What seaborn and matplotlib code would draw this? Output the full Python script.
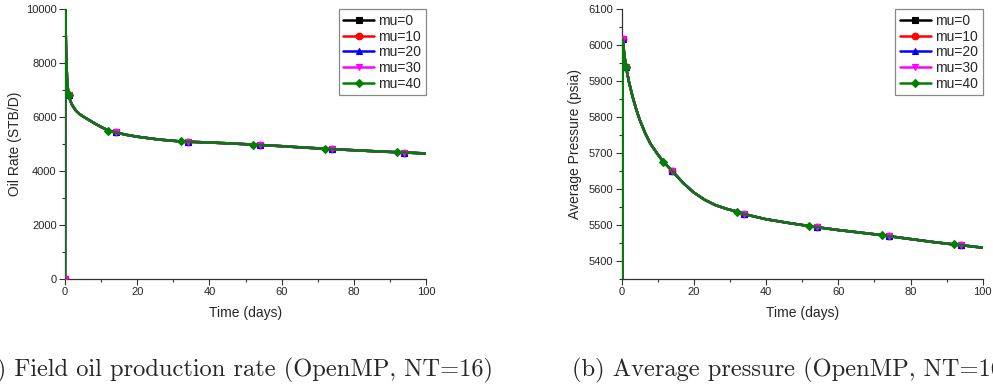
import numpy as np
import pandas as pd
import matplotlib
matplotlib.use("Agg")
import matplotlib.pyplot as plt
import seaborn as sns
from matplotlib.ticker import MultipleLocator

# ---------------- data ----------------
series_labels = ["mu=0", "mu=10", "mu=20", "mu=30", "mu=40"]
series_colors = ["#000000", "#ff0000", "#0000ff", "#ff00ff", "#008000"]
series_markers = ["s", "o", "^", "v", "D"]

# Field oil production rate (STB/D)
rate_time = [0, 0.1, 0.3, 0.6, 1, 1.5, 2, 3, 4, 5, 6, 8, 10, 12, 14, 17, 20,
             26, 32, 34, 40, 46, 52, 54, 60, 66, 72, 74, 80, 86, 92, 94, 100]
rate_vals = [0, 10000, 8400, 7300, 6800, 6590, 6440, 6240, 6110, 6020, 5940,
             5780, 5630, 5500, 5430, 5340, 5270, 5165, 5095, 5085, 5055, 5020,
             4980, 4965, 4920, 4870, 4825, 4810, 4770, 4730, 4695, 4685, 4650]
rate_marks_a = [0, 1, 14, 34, 54, 74, 94]     # mu=0..30 marker times
rate_marks_b = [1, 12, 32, 52, 72, 92]        # mu=40 marker times

# Average pressure (psia)
pres_time = [0, 0.3, 0.7, 1.2, 2, 3, 4, 5, 6.5, 8, 10, 11.5, 14, 17, 20, 23,
             26, 29, 32, 34, 40, 46, 52, 54, 60, 66, 72, 74, 80, 86, 92, 94, 100]
pres_vals = [0, 6017, 5975, 5938, 5898, 5857, 5822, 5792, 5755, 5725, 5696,
             5676, 5650, 5617, 5590, 5570, 5555, 5545, 5537, 5530, 5516, 5506,
             5497, 5494, 5486, 5479, 5472, 5469, 5461, 5453, 5446, 5444, 5437]
pres_marks_a = [0.3, 1.2, 14, 34, 54, 74, 94]
pres_marks_b = [1.2, 11.5, 32, 52, 72, 92]

# ---------------- style ----------------
sns.set_style("ticks")
plt.rcParams["font.family"] = ["Liberation Sans", "DejaVu Sans"]

fig = plt.figure(figsize=(9.93, 3.87), dpi=100)
axL = fig.add_axes([65 / 993, 1 - 279 / 387, 361 / 993, 270 / 387])
axR = fig.add_axes([621.7 / 993, 1 - 279 / 387, 361 / 993, 270 / 387])


def draw(ax, t, v, marks_a, marks_b):
    df = pd.DataFrame({"t": t, "v": v})
    for i, (lab, col, mk) in enumerate(zip(series_labels, series_colors, series_markers)):
        marks = marks_b if i == 4 else marks_a
        idx = [t.index(m) for m in marks]
        sns.lineplot(data=df, x="t", y="v", ax=ax, color=col, label=lab,
                     marker=mk, markersize=4.8 if mk != "D" else 4.3,
                     markeredgewidth=0.8, markeredgecolor=col,
                     markevery=idx, linewidth=1.8, sort=False,
                     estimator=None, zorder=3)


draw(axL, rate_time, rate_vals, rate_marks_a, rate_marks_b)
draw(axR, pres_time, pres_vals, pres_marks_a, pres_marks_b)

for ax in (axL, axR):
    ax.set_xlim(0, 100)
    ax.xaxis.set_major_locator(MultipleLocator(20))
    ax.xaxis.set_minor_locator(MultipleLocator(10))
    ax.set_xlabel("Time (days)", fontsize=10, labelpad=6)
    for s in ("top", "right"):
        ax.spines[s].set_visible(False)
    for s in ("left", "bottom"):
        ax.spines[s].set_color("#333333")
        ax.spines[s].set_linewidth(0.9)
    ax.tick_params(which="major", length=4, width=0.8, labelsize=8,
                   color="#333333", pad=2)
    ax.tick_params(which="minor", length=2.5, width=0.8, color="#333333")
    leg = ax.legend(loc="upper right", bbox_to_anchor=(1.0, 1.0),
                    borderaxespad=0, fontsize=10, frameon=True,
                    fancybox=False, edgecolor="#888888", framealpha=1,
                    handlelength=2.2, labelspacing=0.12, handletextpad=0.3,
                    borderpad=0.35)
    leg.get_frame().set_linewidth(0.9)
    leg.set_zorder(5)

axL.set_ylim(0, 10000)
axL.yaxis.set_major_locator(MultipleLocator(2000))
axL.yaxis.set_minor_locator(MultipleLocator(1000))
axL.set_ylabel("Oil Rate (STB/D)", fontsize=10, labelpad=3)

axR.set_ylim(5350, 6100)
axR.yaxis.set_major_locator(MultipleLocator(100))
axR.yaxis.set_minor_locator(MultipleLocator(50))
axR.set_ylabel("Average Pressure (psia)", fontsize=10, labelpad=5)

fig.text(493 / 993, 1 - 376 / 387, "(a) Field oil production rate (OpenMP, NT=16)",
         ha="right", va="baseline", fontsize=17.6, family="cmr10")
fig.text(571.5 / 993, 1 - 376 / 387, "(b) Average pressure (OpenMP, NT=16)",
         ha="left", va="baseline", fontsize=17.6, family="cmr10")

fig.savefig("out.png", dpi=100)
